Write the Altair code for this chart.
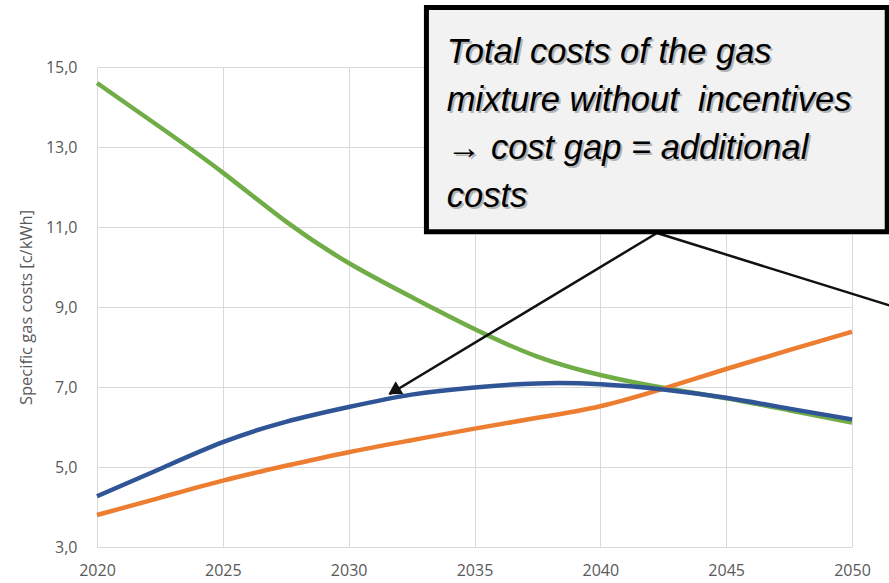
import altair as alt
import pandas as pd

# ---- data ----
years = [2020, 2022.5, 2025, 2027.5, 2030, 2032.5, 2035, 2037.5, 2040, 2042.5, 2045, 2047.5, 2050]
renewable = [14.6, 13.5, 12.36, 11.14, 10.1, 9.25, 8.45, 7.76, 7.3, 6.98, 6.72, 6.42, 6.11]
mixture = [4.27, 4.95, 5.62, 6.13, 6.5, 6.81, 6.99, 7.09, 7.07, 6.94, 6.73, 6.46, 6.19]
natural = [3.8, 4.23, 4.66, 5.03, 5.37, 5.67, 5.96, 6.23, 6.52, 6.96, 7.45, 7.92, 8.38]

series_names = ["Renewable gas", "Natural gas", "Gas mixture"]
series_colors = ["#70ad47", "#ed7d31", "#2f5597"]

x_ticks = [2020, 2025, 2030, 2035, 2040, 2045, 2050]
y_ticks = [3, 5, 7, 9, 11, 13, 15]
y_title = "Specific gas costs [c/kWh]"

ann_lines = ["Total costs of the gas", "mixture without\u00a0 incentives", "\u2192 cost gap = additional", "costs"]

# ---- tables ----
rows = []
for name, vals in zip(series_names, [renewable, natural, mixture]):
    for yr, v in zip(years, vals):
        rows.append({"year": yr, "value": v, "series": name, "order": series_names.index(name)})
lines_df = pd.DataFrame(rows)

# annotation geometry (data coordinates)
box_df = pd.DataFrame([{"x1": 2033.09, "x2": 2051.40, "y1": 16.49, "y2": 10.88}])
text_x = 2033.9
text_top = 15.1
line_step = 1.2
text_df = pd.DataFrame([{"tx": text_x, "ty": text_top - i * line_step, "t": s, "i": i}
                        for i, s in enumerate(ann_lines)])
arrow_df = pd.DataFrame([
    {"ax": 2042.25, "ay": 10.85, "bx": 2031.62, "by": 6.82},
    {"ax": 2042.25, "ay": 10.85, "bx": 2051.9, "by": 8.96},
])
head_df = pd.DataFrame([{"hx": 2031.8, "hy": 6.9}])

xscale = alt.Scale(domain=[2020, 2050], nice=False, zero=False)
yscale = alt.Scale(domain=[3, 15], nice=False, zero=False)
xaxis = alt.Axis(values=x_ticks, format="d", title=None, labelFlush=False)
yaxis = alt.Axis(values=y_ticks, title=y_title, labelFlush=False,
                 labelExpr="replace(format(datum.value, '.1f'), '.', ',')")


def X(f):
    return alt.X(f, type="quantitative", scale=xscale, axis=xaxis)


def Y(f):
    return alt.Y(f, type="quantitative", scale=yscale, axis=yaxis)


lines = alt.Chart(lines_df).mark_line(strokeWidth=4.5, interpolate="natural").encode(
    x=X("year"), y=Y("value"),
    color=alt.Color("series:N", scale=alt.Scale(domain=series_names, range=series_colors), legend=None),
    order=alt.Order("order:Q"),
    detail="series:N",
)

arrows = alt.Chart(arrow_df).mark_rule(color="#111111", strokeWidth=2.5, clip=False).encode(
    x=X("ax"), y=Y("ay"), x2="bx", y2="by"
)
head = alt.Chart(head_df).mark_point(shape="triangle-up", filled=True, size=220, angle=239,
                                     color="#111111", opacity=1, clip=False).encode(
    x=X("hx"), y=Y("hy")
)

box = alt.Chart(box_df).mark_rect(fill="#f2f2f2", stroke="black", strokeWidth=5, clip=False).encode(
    x=X("x1"), x2="x2", y=Y("y1"), y2="y2"
)

font_main = "Liberation Sans Narrow, Arial Narrow, Liberation Sans"
shadow = alt.Chart(text_df).mark_text(align="left", baseline="alphabetic", font=font_main, fontSize=34.5,
                                      fontStyle="italic", color="#b4b4b4", dx=2, dy=2, clip=False).encode(
    x=X("tx"), y=Y("ty"), text="t:N"
)
text = alt.Chart(text_df).mark_text(align="left", baseline="alphabetic", font=font_main, fontSize=34.5,
                                    fontStyle="italic", color="black", clip=False).encode(
    x=X("tx"), y=Y("ty"), text="t:N"
)

chart = alt.layer(lines, arrows, head, box, shadow, text).properties(
    width=755, height=480,
    padding={"left": 97, "top": 67, "right": 37, "bottom": 36},
    autosize=alt.AutoSizeParams(type="none"),
    background="white",
).configure_view(stroke=None).configure_axis(
    grid=True, gridColor="#d9d9d9", gridWidth=1, domain=False, ticks=False, labelFlush=False,
    labelFont="Open Sans", labelFontSize=16, labelColor="#595959",
    titleFont="Open Sans", titleFontSize=16.5, titleColor="#595959", titleFontWeight="normal",
).configure_axisY(labelPadding=20, titlePadding=11).configure_axisX(labelPadding=15)

chart.save("out.html", embed_options={"renderer": "svg", "actions": False})
